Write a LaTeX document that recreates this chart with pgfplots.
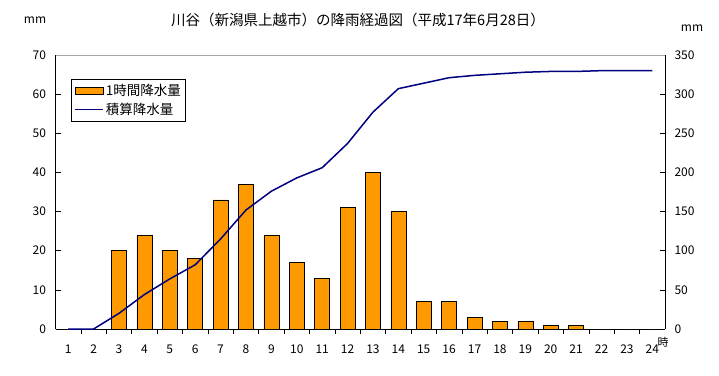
\documentclass[border=0pt]{standalone}
\usepackage{pgfplots}
\pgfplotsset{compat=1.18}
\usepackage{fontspec}
\setmainfont{Noto Sans CJK JP}
\definecolor{barorange}{HTML}{FF9900}
\definecolor{linenavy}{HTML}{000080}
\pgfplotsset{
  barlegend/.style={legend image code/.code={\draw[##1] (0pt,-3.5pt) rectangle (28pt,3.5pt);}},
  linelegend/.style={legend image code/.code={\draw[##1] (0pt,0pt) -- (28pt,0pt);}},
}
\begin{document}
\begin{tikzpicture}[x=1pt,y=1pt]
\path[use as bounding box] (0,0) rectangle (719,375);
\begin{axis}[at={(55.5pt,46pt)}, anchor=south west, width=609.5pt, height=274pt, scale only axis,
  xmin=0.5, xmax=24.5, ymin=0, ymax=70,
  axis x line*=bottom, axis y line*=left,
  axis line style={black, line width=0.8pt, -},
  xtick={1,...,24}, major x tick style={draw=none},
  minor xtick={1.5,2.5,...,23.5}, minor tick length=5pt,
  ytick={0,10,...,70}, major tick length=5pt, tick align=inside,
  tick style={black, line width=0.6pt},
  /pgf/number format/assume math mode=true,
  ticklabel style={font=\fontsize{12}{14}\selectfont},
  xticklabel style={yshift=-7pt},
  yticklabel style={xshift=-6pt},
  ybar, bar width=15pt,
  clip=false,
]
\addplot[fill=barorange, draw=black, line width=0.6pt] coordinates {
(1,0) (2,0) (3,20) (4,24) (5,20) (6,18) (7,33) (8,37) (9,24) (10,17) (11,13) (12,31)
(13,40) (14,30) (15,7) (16,7) (17,3) (18,2) (19,2) (20,1) (21,1) (22,0) (23,0) (24,0)};
\node[font=\fontsize{11}{13}\selectfont, anchor=center] at (rel axis cs:1,0) [xshift=-2pt, yshift=-13pt] {時};
\end{axis}
\begin{axis}[at={(55.5pt,46pt)}, anchor=south west, width=609.5pt, height=274pt, scale only axis,
  xmin=0.5, xmax=24.5, ymin=0, ymax=350,
  axis x line*=top, axis y line*=right,
  x axis line style={gray!70, line width=0.8pt, -},
  y axis line style={black, line width=0.8pt, -},
  xtick=\empty,
  ytick={0,50,...,350}, major tick length=5pt, tick align=inside,
  tick style={black, line width=0.6pt},
  /pgf/number format/assume math mode=true,
  ticklabel style={font=\fontsize{12}{14}\selectfont},
  yticklabel style={xshift=6pt},
  legend style={at={(0.0254,0.912)}, anchor=north west, draw=black, line width=0.6pt,
    font=\fontsize{13.5}{16}\selectfont, inner sep=3pt, row sep=2pt},
  legend cell align=left,
]
\addlegendimage{fill=barorange, draw=black, line width=0.6pt, barlegend}
\addlegendentry{1時間降水量}
\addplot[linenavy, line width=1.5pt, mark=none, linelegend] coordinates {
(1,0) (2,0) (3,20) (4,44) (5,64) (6,82) (7,115) (8,152) (9,176) (10,193) (11,206) (12,237)
(13,277) (14,307) (15,314) (16,321) (17,324) (18,326) (19,328) (20,329) (21,329) (22,330) (23,330) (24,330)};
\addlegendentry{積算降水量}
\end{axis}
\node[font=\fontsize{14.5}{17}\selectfont] at (358,355) {川谷（新潟県上越市）の降雨経過図（平成17年6月28日）};
\node[font=\fontsize{12}{14}\selectfont] at (35,355) {mm};
\node[font=\fontsize{12}{14}\selectfont] at (692,347) {mm};
\end{tikzpicture}
\end{document}
